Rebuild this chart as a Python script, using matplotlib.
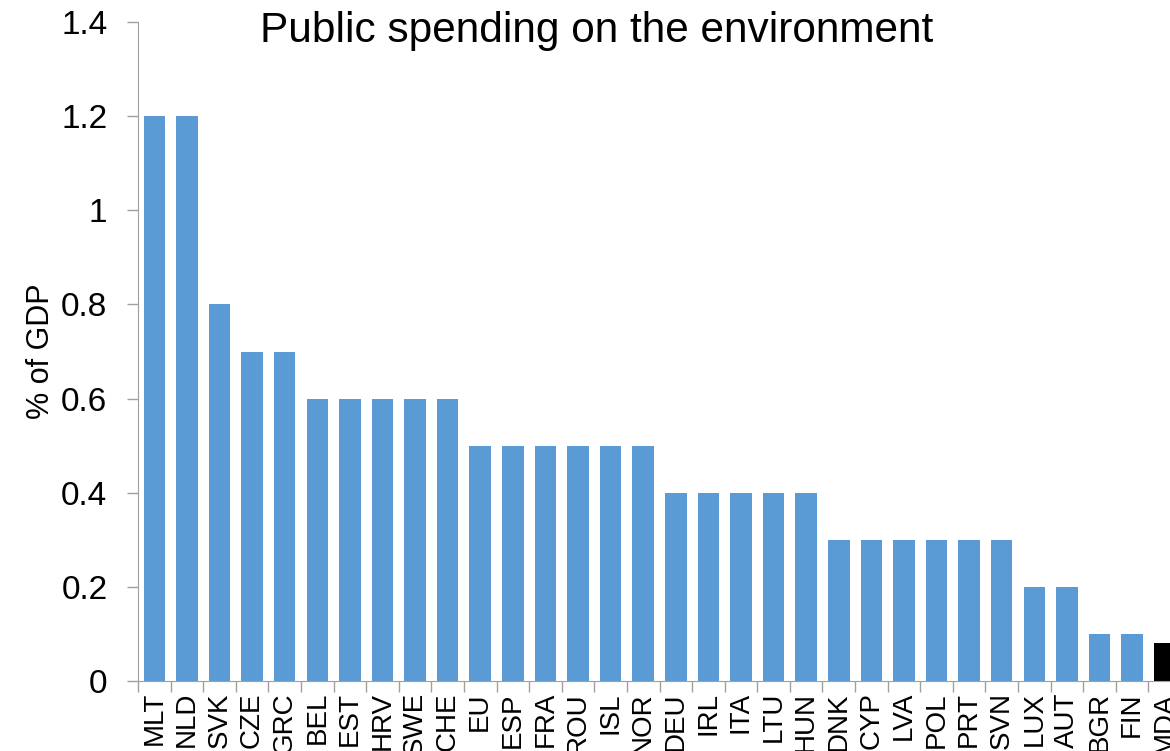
import matplotlib
matplotlib.use("Agg")
import matplotlib.pyplot as plt

plt.rcParams['font.family'] = ['Liberation Sans', 'DejaVu Sans']

countries = ["MLT", "NLD", "SVK", "CZE", "GRC", "BEL", "EST", "HRV", "SWE", "CHE",
             "EU", "ESP", "FRA", "ROU", "ISL", "NOR", "DEU", "IRL", "ITA", "LTU",
             "HUN", "DNK", "CYP", "LVA", "POL", "PRT", "SVN", "LUX", "AUT", "BGR",
             "FIN", "MDA"]
values = [1.2, 1.2, 0.8, 0.7, 0.7, 0.6, 0.6, 0.6, 0.6, 0.6,
          0.5, 0.5, 0.5, 0.5, 0.5, 0.5, 0.4, 0.4, 0.4, 0.4,
          0.4, 0.3, 0.3, 0.3, 0.3, 0.3, 0.3, 0.2, 0.2, 0.1,
          0.1, 0.08]
yticks = [0, 0.2, 0.4, 0.6, 0.8, 1, 1.2, 1.4]
ytick_labels = ["0", "0.2", "0.4", "0.6", "0.8", "1", "1.2", "1.4"]

colors = ["#5B9BD5"] * (len(countries) - 1) + ["#000000"]

fig = plt.figure(figsize=(11.7, 7.51), dpi=100)
ax = fig.add_axes([138/1170, 70/751, (1181-138)/1170, (681-22)/751])

x = list(range(len(countries)))
ax.bar(x, values, width=0.66, color=colors, zorder=2)
ax.set_xlim(-0.5, len(countries) - 0.5)
ax.set_ylim(0, 1.4)
ax.set_yticks(yticks)
ax.set_yticklabels(ytick_labels, fontsize=24)
ax.set_xticks(x)
ax.set_xticklabels(countries, rotation=90, fontsize=20)
# minor ticks at category boundaries
ax.set_xticks([i - 0.5 for i in range(len(countries) + 1)], minor=True)
ax.tick_params(axis='x', which='major', length=0, pad=8)
ax.tick_params(axis='x', which='minor', length=8, color='#a0a0a0', width=1)
ax.tick_params(axis='y', length=8, color='#a0a0a0', width=1, pad=14)

for s in ['top', 'right']:
    ax.spines[s].set_visible(False)
ax.spines['left'].set_color('#a0a0a0')
ax.spines['bottom'].set_color('#a0a0a0')

ax.set_ylabel("% of GDP", fontsize=22, labelpad=4)
fig.text(597/1170, 1 - 31/751, "Public spending on the environment",
         fontsize=30.5, ha='center', va='center')

fig.savefig("out.png", dpi=100)
